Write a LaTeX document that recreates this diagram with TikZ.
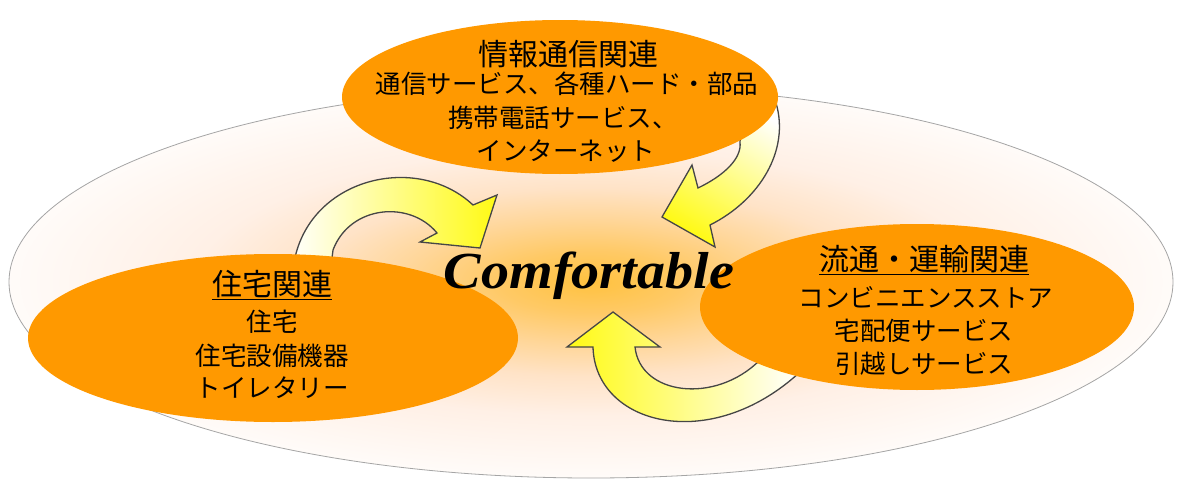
\documentclass[tikz,border=0pt]{standalone}
\usepackage{fontspec}
\newfontfamily\jp{Noto Sans CJK JP}
\newfontfamily\comf{Liberation Serif}
\usetikzlibrary{shapes.geometric}
\definecolor{orangefill}{RGB}{255,153,0}
\definecolor{arrowyellow}{RGB}{255,250,20}
\definecolor{arrowline}{RGB}{70,70,70}
\definecolor{bgline}{RGB}{165,165,165}
\pgfdeclareradialshading{bgshade}{\pgfpoint{0bp}{0bp}}{rgb(0bp)=(1,0.76,0.25); rgb(4bp)=(1,0.79,0.4); rgb(8bp)=(1,0.84,0.6); rgb(12bp)=(1,0.89,0.78); rgb(17bp)=(1,0.94,0.9); rgb(25bp)=(1,0.985,0.975); rgb(50bp)=(1,0.985,0.975)}
\tikzset{
  blob/.style={ellipse, fill=orangefill, inner sep=0pt},
  titletext/.style={anchor=base, inner sep=0pt, font=\jp\fontsize{30}{30}\selectfont},
  bodytext/.style={anchor=base, inner sep=0pt, font=\jp\fontsize{25.5}{25.5}\selectfont},
  bigarrow/.style={draw=arrowline, line width=1.3pt, line join=miter},
}
\begin{document}
\begin{tikzpicture}[x=1pt,y=-1pt]
\useasboundingbox (0,0) rectangle (1179,479);
\fill[white] (0,0) rectangle (1179,479);
% background ellipse
\path[draw=bgline, line width=0.8pt, shading=bgshade] (591,282) ellipse [x radius=582pt, y radius=196pt];
% arrows
\path[bigarrow, left color=white, right color=arrowyellow]
  (290,275) -- (297,250) .. controls (320,175) and (420,155) .. (473,205)
  -- (497,195) -- (480,248) -- (420,242) -- (437,233)
  .. controls (410,200) and (350,205) .. (333,250) -- (330,275) -- cycle;
\path[bigarrow, top color=white, bottom color=arrowyellow, shading angle=-30]
  (760,100) -- (776,103) .. controls (790,150) and (760,200) .. (710,225)
  -- (715,247) -- (662,217) -- (692,165) -- (698,188)
  .. controls (725,175) and (742,158) .. (740,142) -- (742,115) -- cycle;
\path[bigarrow, left color=arrowyellow, right color=white]
  (613,312) -- (660,347) -- (635,347) .. controls (640,395) and (715,405) .. (760,360)
  -- (790,350) -- (800,372) .. controls (710,455) and (595,425) .. (593,347)
  -- (567,347) -- cycle;
% orange ellipses
\node[blob, minimum width=436pt, minimum height=154pt] (info) at (560,97) {};
\node[blob, minimum width=490pt, minimum height=168pt] (house) at (273,338) {};
\node[blob, minimum width=434pt, minimum height=166pt] (dist) at (917,307) {};
% texts
\node[titletext] (infot) at (568,65.4) {情報通信関連};
\node[bodytext] (info1) at (567,93.7) {通信サービス、各種ハード・部品};
\node[bodytext] (info2) at (563,127.7) {携帯電話サービス、};
\node[bodytext] (info3) at (566,160.7) {インターネット};
\node[titletext] (houset) at (272,295.4) {\underline{住宅関連}};
\node[bodytext] (house1) at (272,331.7) {住宅};
\node[bodytext] (house2) at (272,365.7) {住宅設備機器};
\node[bodytext] (house3) at (272,397.7) {トイレタリー};
\node[titletext] (distt) at (924,270.4) {\underline{流通・運輸関連}};
\node[bodytext] (dist1) at (926,307.7) {コンビニエンスストア};
\node[bodytext] (dist2) at (924,340.7) {宅配便サービス};
\node[bodytext] (dist3) at (924,373.7) {引越しサービス};
\node[anchor=base, inner sep=0pt, xscale=1.08, font=\comf\bfseries\itshape\fontsize{52}{52}\selectfont] (comfort) at (589,288) {Comfortable};
\end{tikzpicture}
\end{document}
